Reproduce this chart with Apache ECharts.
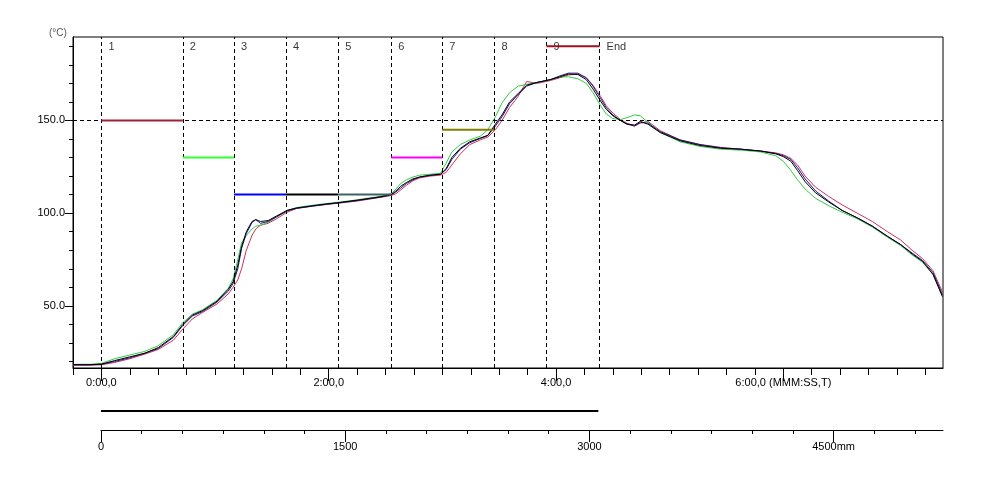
<!DOCTYPE html>
<html><head><meta charset="utf-8">
<script src="https://cdn.jsdelivr.net/npm/echarts@6/dist/echarts.min.js"></script>
<style>html,body{margin:0;padding:0;background:#fff}#c{width:994px;height:478px}</style>
</head><body><div id="c"></div>
<script>
// ---- data (time in seconds, temperature in °C) ----
const timeSec = [-15,-6,0,7,15,23,30,38,43,48,53.5,61,67,69.5,72,74,76.5,79.5,81.5,84,88,92.5,98,103,111.5,119,126,135,147,153,155.5,158,161,164.5,168,173.5,179,182,185,189.5,194.5,200,204,208,211.5,215.5,220,224.5,230,237,242,246.5,251.5,256,259.5,263.5,266.5,270,274,277.5,281.5,284.5,288.5,295,305.5,316,327,337.5,348,356,360,364,367.5,371.5,377,384,391,399,407,415,422,428,433.5,439,444];
const tempBlack = [18.3,18.3,18.6,20.5,22.5,24.5,27.5,33.5,40,45,47.5,52.5,59,63,72,82,90,95.5,96.5,95.5,96,98.5,101.5,102.8,104,105,105.8,107,108.8,110,112,114.5,116.5,118.5,119.5,120.5,121,124,130,135,138.5,140.5,142,148,153,160,164.5,169,170.5,172,173.5,175,174.8,172,167,160.5,156,152.5,150,148,147.5,149.5,148,143.5,139,136.5,135,134.5,133.5,132,130.5,128,123,117,111,106,101.5,97.5,93,87.5,83,78,74,67,55];
const tempRed = [18,18,18.2,19.5,21.5,24,26.5,31.5,37.5,43,46.5,51,56.5,60,64,70,80,88,91.5,93.5,94.5,97,100.5,102.5,103.8,104.7,105.5,106.5,108.5,109.5,110.5,112.5,115,117.5,119,120,120.5,122,126,132,137,139.5,141,145,150,157,163,171,170,171.5,173,174.5,175,173,169,163,158,154,150.5,148.5,147,148.5,149.5,144.5,139.5,137,135.5,134.5,133.5,132.5,131.5,129.5,126,120,114,109,104.5,100,95.5,90,85.5,80,75.5,69,57.5];
const tempGreen = [18.5,18.5,19,21.5,23.5,25.5,28.5,34.5,41,45.5,48,53,59.5,64.5,75,84,88,91.5,93,93.5,95,98,101.5,103,104.3,105.2,106,107.2,109,110.5,113,116,118,119.5,120.5,121,121.5,127,133,137,139.5,141.5,145,152,159.5,165,168.5,169.5,170.5,172,173.5,173.5,172.5,170,165,158,153.5,151,150.5,151.5,153,152.5,149,143.5,138.5,136,134.5,134,133,131,128,123,118,113,108,104,100.5,97,92.5,87,82.5,77.5,73.5,67,55.5];
const tempBlue = [18.2,18.2,18.5,20,22,24.5,27,33,39.5,44.5,47,52,58,62,70,81,89,95,96.5,94.5,95.5,98,101.2,102.6,103.8,104.8,105.6,106.8,108.6,109.8,111.5,113.5,116,118,119.5,120.3,121,123.5,129,134.5,138,140.3,141.8,147,152,159,164,168.5,170.5,172,174,175.5,175.5,173,168.5,162,157,153,150,148,147,149,148.5,144,139.5,137,135.2,134.5,133.5,132.2,131,129,124.5,118.5,112,106.5,101.5,97.5,93,87.5,83,78.5,74.5,68,56];

const zoneNames = ['1','2','3','4','5','6','7','8','9','End'];
const zoneBounds = [0,43,70,97.5,125,153,180,207.5,235,263];
const zoneSetpoints = [150,130,110,110,110,130,145,null,190];
const limitTemp = 150;

const yLabelValues = [50,100,150];
const timeLabelValues = [0,120,240,360];
const timeLabelTexts = ['0:00,0','2:00,0','4:00,0','6:00,0 (MMM:SS,T)'];
const distLabelValues = [0,1500,3000,4500];
const distLabelTexts = ['0','1500','3000','4500mm'];
const conveyorLengthMm = 3055;

// ---- styling ----
const FONT = '"Liberation Sans Narrow","Liberation Sans",Arial,sans-serif';
const curveColors = {red:'#d0305a', green:'#33cc44', blue:'#1a1a8c', black:'#000000'};
const setpointColors = ['#a0203a','#33ff33','#0000ff','#000000','#3c6464','#ff00ff','#808000','#808080','#a01020'];

const range = (a,b,s)=>{const r=[];for(let v=a;v<=b+1e-9;v+=s)r.push(v);return r;};
const yMinor = range(20,190,10);
const tMinor = range(-15,435,15);
const dMinor = range(0,5000,250);
const zip = (xs,ys)=>xs.map((x,i)=>[x,ys[i]]);

const chart = echarts.init(document.getElementById('c'), null, {renderer:'canvas'});
const lbl = {color:'#000', fontSize:11, fontFamily:FONT};

const series = [];
[['red',tempRed],['green',tempGreen],['blue',tempBlue],['black',tempBlack]].forEach(([k,arr])=>{
  series.push({type:'line', xAxisIndex:0, yAxisIndex:0, data:zip(timeSec,arr), symbol:'none',
    lineStyle:{width:1, color:curveColors[k]}, itemStyle:{color:curveColors[k]}, z:3, silent:true});
});
// reference lines
series.push({type:'line', xAxisIndex:0, yAxisIndex:0, data:[], z:2, silent:true,
  markLine:{silent:true, symbol:['none','none'], label:{show:false},
    lineStyle:{color:'#000', type:[4,3], width:1},
    data: zoneBounds.map(t=>({xAxis:t})).concat([{yAxis:limitTemp}])}});
// setpoints
zoneSetpoints.forEach((v,i)=>{
  if (v==null) return;
  series.push({type:'line', xAxisIndex:0, yAxisIndex:0, symbol:'none', silent:true, z:6,
    data:[[zoneBounds[i],v],[zoneBounds[i+1],v]],
    lineStyle:{width:2, color:setpointColors[i]}});
});
// zone labels
series.push({type:'scatter', xAxisIndex:0, yAxisIndex:0, symbolSize:0, z:4, silent:true,
  data: zoneBounds.map((t,i)=>({value:[t,189.5], name:zoneNames[i]})),
  label:{show:true, position:'right', distance:7, formatter:p=>p.name, ...lbl}});
// conveyor length line
series.push({type:'line', xAxisIndex:2, yAxisIndex:2, symbol:'none', silent:true,
  data:[[0,0.76],[conveyorLengthMm,0.76]], lineStyle:{width:2,color:'#000'}});

chart.setOption({
  animation:false,
  backgroundColor:'#fff',
  title:{text:'(°C)', left:44, top:23, textStyle:{fontSize:10, fontWeight:'normal', color:'#555', fontFamily:FONT}},
  grid:[
    {left:73, right:51, top:37, bottom:110, show:true, borderColor:'#000', borderWidth:1},
    {left:101, right:51, top:405, height:25, show:false}
  ],
  xAxis:[
    {type:'value', gridIndex:0, min:-15, max:444.3, position:'bottom',
      axisLine:{show:true, onZero:false, lineStyle:{color:'#000'}},
      axisTick:{show:true, customValues:timeLabelValues, length:13, lineStyle:{color:'#000'}},
      axisLabel:{customValues:timeLabelValues, margin:9, formatter:v=>timeLabelTexts[timeLabelValues.indexOf(v)], ...lbl},
      splitLine:{show:false}},
    {type:'value', gridIndex:0, min:-15, max:444.3, position:'bottom',
      axisLine:{show:false, onZero:false},
      axisTick:{show:true, customValues:tMinor, length:7, lineStyle:{color:'#000'}},
      axisLabel:{show:false}, splitLine:{show:false}},
    {type:'value', gridIndex:1, min:0, max:5172, position:'bottom',
      axisLine:{show:true, onZero:false, lineStyle:{color:'#000'}},
      axisTick:{show:true, customValues:distLabelValues, length:12, lineStyle:{color:'#000'}},
      axisLabel:{customValues:distLabelValues, margin:11, formatter:v=>distLabelTexts[distLabelValues.indexOf(v)], ...lbl},
      splitLine:{show:false}},
    {type:'value', gridIndex:1, min:0, max:5172, position:'bottom',
      axisLine:{show:false, onZero:false},
      axisTick:{show:true, customValues:dMinor, length:4, lineStyle:{color:'#000'}},
      axisLabel:{show:false}, splitLine:{show:false}}
  ],
  yAxis:[
    {type:'value', gridIndex:0, min:16.5, max:195, position:'left',
      axisLine:{show:true, onZero:false, lineStyle:{color:'#000'}},
      axisTick:{show:true, customValues:yLabelValues, length:8, lineStyle:{color:'#000'}},
      axisLabel:{customValues:yLabelValues, margin:8, formatter:v=>v.toFixed(1), ...lbl},
      splitLine:{show:false}},
    {type:'value', gridIndex:0, min:16.5, max:195, position:'left',
      axisLine:{show:false, onZero:false},
      axisTick:{show:true, customValues:yMinor, length:4, lineStyle:{color:'#000'}},
      axisLabel:{show:false}, splitLine:{show:false}},
    {type:'value', gridIndex:1, min:0, max:1, show:false}
  ],
  series
});
</script></body></html>
